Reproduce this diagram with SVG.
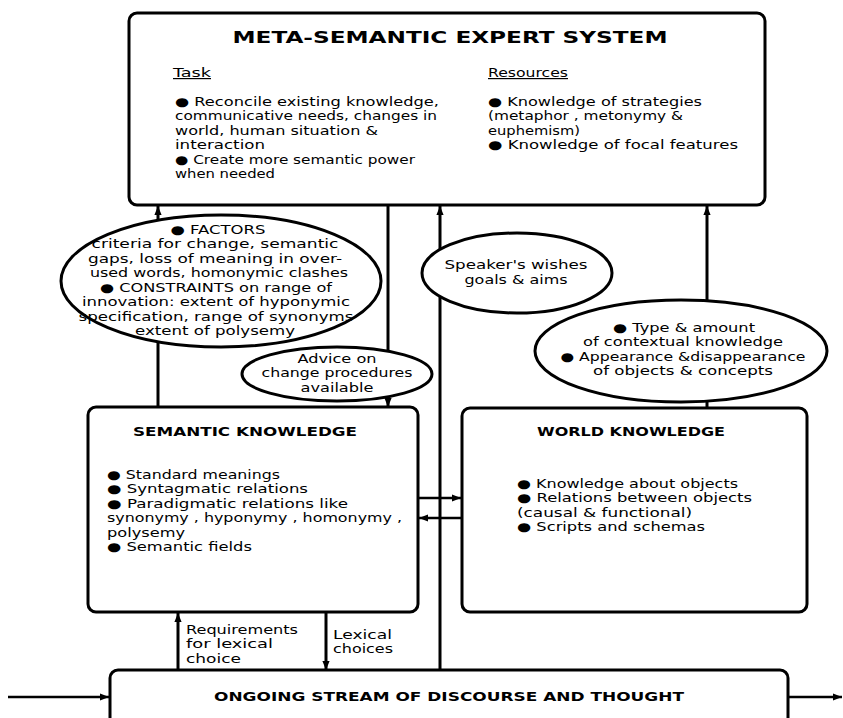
<svg xmlns="http://www.w3.org/2000/svg" width="843" height="718" viewBox="0 0 843 718">
<style>
.box{fill:#fff;stroke:#000;stroke-width:3}
.ell{fill:#fff;stroke:#000;stroke-width:3}
.ln{stroke:#000;stroke-width:3;fill:none}
.ln2{stroke:#000;stroke-width:2.5;fill:none}
.t{font-family:"DejaVu Sans","Liberation Sans",sans-serif;font-size:12px;fill:#000}
.c{text-anchor:middle}
.h{font-family:"DejaVu Sans","Liberation Sans",sans-serif;font-weight:bold;fill:#000}
</style>
<defs>
<marker id="ah" viewBox="0 0 10 10" refX="10" refY="5" markerWidth="9" markerHeight="9" markerUnits="userSpaceOnUse" orient="auto"><path d="M0,1 L10,5 L0,9 z" fill="#000"/></marker>
</defs>
<rect width="843" height="718" fill="#fff"/>
<g id="connectors">
<line class="ln" x1="158" y1="407" x2="158" y2="206" marker-end="url(#ah)"/>
<line class="ln" x1="388" y1="205" x2="388" y2="407" marker-end="url(#ah)"/>
<line class="ln" x1="440" y1="670" x2="440" y2="206" marker-end="url(#ah)"/>
<line class="ln" x1="707" y1="408" x2="707" y2="206" marker-end="url(#ah)"/>
<line class="ln2" x1="419" y1="498" x2="461" y2="498" marker-end="url(#ah)"/>
<line class="ln2" x1="462" y1="518" x2="419" y2="518" marker-end="url(#ah)"/>
<line class="ln" x1="178" y1="670" x2="178" y2="613" marker-end="url(#ah)"/>
<line class="ln" x1="326" y1="612" x2="326" y2="670" marker-end="url(#ah)"/>
<line class="ln2" x1="8" y1="697" x2="109" y2="697" marker-end="url(#ah)"/>
<line class="ln2" x1="788" y1="697" x2="842" y2="697" marker-end="url(#ah)"/>
</g>
<g id="meta-semantic">
<rect class="box" x="129" y="13" width="636" height="192" rx="8"/>
<text class="h c" x="450" y="43" font-size="16" textLength="435" lengthAdjust="spacingAndGlyphs">META-SEMANTIC EXPERT SYSTEM</text>
<text class="t" x="173" y="77" text-decoration="underline" textLength="38" lengthAdjust="spacingAndGlyphs">Task</text>
<text class="t" x="488" y="77" text-decoration="underline" textLength="80" lengthAdjust="spacingAndGlyphs">Resources</text>
<text class="t" x="175" y="105.5" textLength="264" lengthAdjust="spacingAndGlyphs">● Reconcile existing knowledge,</text>
<text class="t" x="175" y="120" textLength="262" lengthAdjust="spacingAndGlyphs">communicative needs, changes in</text>
<text class="t" x="175" y="134.5" textLength="203" lengthAdjust="spacingAndGlyphs">world, human situation &amp;</text>
<text class="t" x="175" y="149" textLength="90" lengthAdjust="spacingAndGlyphs">interaction</text>
<text class="t" x="175" y="163.5" textLength="240" lengthAdjust="spacingAndGlyphs">● Create more semantic power</text>
<text class="t" x="175" y="178" textLength="100" lengthAdjust="spacingAndGlyphs">when needed</text>
<text class="t" x="488" y="105.5" textLength="214" lengthAdjust="spacingAndGlyphs">● Knowledge of strategies</text>
<text class="t" x="488" y="120" textLength="195" lengthAdjust="spacingAndGlyphs">(metaphor , metonymy &amp;</text>
<text class="t" x="488" y="134.5" textLength="92" lengthAdjust="spacingAndGlyphs">euphemism)</text>
<text class="t" x="488" y="149" textLength="250" lengthAdjust="spacingAndGlyphs">● Knowledge of focal features</text>
</g>
<g id="factors">
<ellipse class="ell" cx="221" cy="281" rx="160" ry="66"/>
<text class="t c" x="218" y="233.5" textLength="95" lengthAdjust="spacingAndGlyphs">● FACTORS</text>
<text class="t c" x="215" y="248" textLength="247" lengthAdjust="spacingAndGlyphs">criteria for change, semantic</text>
<text class="t c" x="215" y="262.5" textLength="254" lengthAdjust="spacingAndGlyphs">gaps, loss of meaning in over-</text>
<text class="t c" x="219" y="277" textLength="258" lengthAdjust="spacingAndGlyphs">used words, homonymic clashes</text>
<text class="t c" x="216" y="291.5" textLength="232" lengthAdjust="spacingAndGlyphs">● CONSTRAINTS on range of</text>
<text class="t c" x="216" y="306" textLength="268" lengthAdjust="spacingAndGlyphs">innovation: extent of hyponymic</text>
<text class="t c" x="216" y="320.5" textLength="275" lengthAdjust="spacingAndGlyphs">specification, range of synonyms</text>
<text class="t c" x="215" y="335" textLength="160" lengthAdjust="spacingAndGlyphs">extent of polysemy</text>
</g>
<g id="speaker">
<ellipse class="ell" cx="517" cy="273" rx="95" ry="40"/>
<text class="t c" x="516" y="268.5" textLength="143" lengthAdjust="spacingAndGlyphs">Speaker's wishes</text>
<text class="t c" x="516" y="283.5" textLength="103" lengthAdjust="spacingAndGlyphs">goals &amp; aims</text>
</g>
<g id="context">
<ellipse class="ell" cx="681" cy="351" rx="146" ry="51"/>
<text class="t c" x="684" y="331.5" textLength="142" lengthAdjust="spacingAndGlyphs">● Type &amp; amount</text>
<text class="t c" x="683" y="346" textLength="200" lengthAdjust="spacingAndGlyphs">of contextual knowledge</text>
<text class="t c" x="683" y="360.5" textLength="245" lengthAdjust="spacingAndGlyphs">● Appearance &amp;disappearance</text>
<text class="t c" x="683" y="375" textLength="180" lengthAdjust="spacingAndGlyphs">of objects &amp; concepts</text>
</g>
<g id="advice">
<ellipse class="ell" cx="337" cy="374" rx="95" ry="27"/>
<text class="t c" x="337" y="362.5" textLength="79" lengthAdjust="spacingAndGlyphs">Advice on</text>
<text class="t c" x="337" y="377" textLength="151" lengthAdjust="spacingAndGlyphs">change procedures</text>
<text class="t c" x="337" y="391.5" textLength="73" lengthAdjust="spacingAndGlyphs">available</text>
</g>
<g id="semantic-knowledge">
<rect class="box" x="88" y="407" width="330" height="205" rx="8"/>
<text class="h c" x="245" y="436" font-size="12.5" textLength="224" lengthAdjust="spacingAndGlyphs">SEMANTIC KNOWLEDGE</text>
<text class="t" x="107" y="478.5" textLength="173" lengthAdjust="spacingAndGlyphs">● Standard meanings</text>
<text class="t" x="107" y="493" textLength="201" lengthAdjust="spacingAndGlyphs">● Syntagmatic relations</text>
<text class="t" x="107" y="507.5" textLength="241" lengthAdjust="spacingAndGlyphs">● Paradigmatic relations like</text>
<text class="t" x="107" y="522" textLength="295" lengthAdjust="spacingAndGlyphs">synonymy , hyponymy , homonymy ,</text>
<text class="t" x="107" y="536.5" textLength="78" lengthAdjust="spacingAndGlyphs">polysemy</text>
<text class="t" x="107" y="551" textLength="145" lengthAdjust="spacingAndGlyphs">● Semantic fields</text>
</g>
<g id="world-knowledge">
<rect class="box" x="462" y="408" width="345" height="204" rx="8"/>
<text class="h c" x="631" y="436" font-size="12.5" textLength="188" lengthAdjust="spacingAndGlyphs">WORLD KNOWLEDGE</text>
<text class="t" x="517" y="487.5" textLength="221" lengthAdjust="spacingAndGlyphs">● Knowledge about objects</text>
<text class="t" x="517" y="502" textLength="235" lengthAdjust="spacingAndGlyphs">● Relations between objects</text>
<text class="t" x="517" y="516.5" textLength="175" lengthAdjust="spacingAndGlyphs">(causal &amp; functional)</text>
<text class="t" x="517" y="531" textLength="188" lengthAdjust="spacingAndGlyphs">● Scripts and schemas</text>
</g>
<g id="requirements-label">
<text class="t" x="186" y="633.5" textLength="112" lengthAdjust="spacingAndGlyphs">Requirements</text>
<text class="t" x="186" y="648" textLength="87" lengthAdjust="spacingAndGlyphs">for lexical</text>
<text class="t" x="186" y="662.5" textLength="55" lengthAdjust="spacingAndGlyphs">choice</text>
</g>
<g id="lexical-label">
<text class="t" x="333" y="638.5" textLength="59" lengthAdjust="spacingAndGlyphs">Lexical</text>
<text class="t" x="333" y="652.5" textLength="60" lengthAdjust="spacingAndGlyphs">choices</text>
</g>
<g id="discourse">
<rect class="box" x="110" y="670" width="678" height="60" rx="8"/>
<text class="h c" x="449" y="701" font-size="12.5" textLength="470" lengthAdjust="spacingAndGlyphs">ONGOING STREAM OF DISCOURSE AND THOUGHT</text>
</g>
</svg>
